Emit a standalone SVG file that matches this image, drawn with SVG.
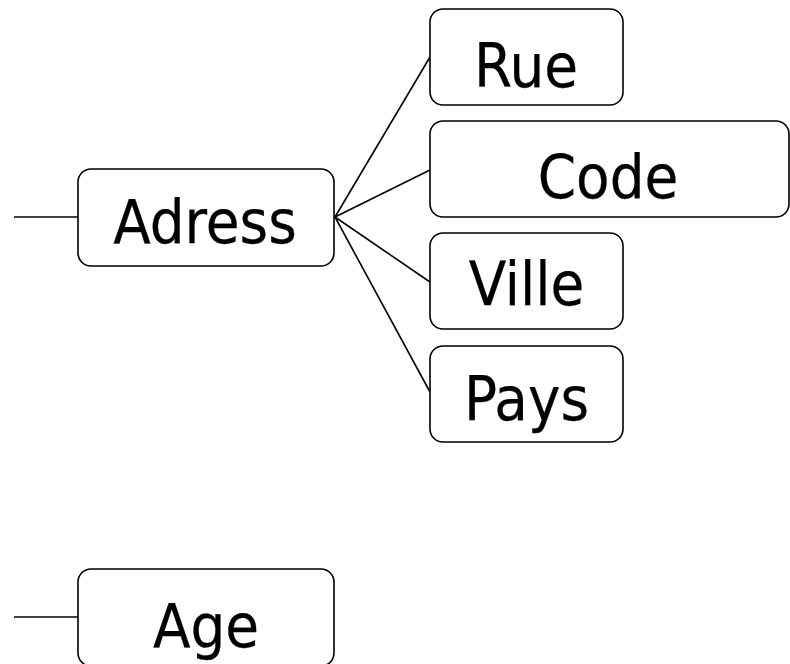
<svg xmlns="http://www.w3.org/2000/svg" width="790" height="664" viewBox="0 0 790 664">
<style>
.box{fill:#fff;stroke:#000;stroke-width:1.6}
.lbl{font-family:"DejaVu Sans Condensed","DejaVu Sans",sans-serif;font-stretch:condensed;font-size:61px;fill:#000;text-anchor:middle;stroke:#000;stroke-width:0.25}
.con{stroke:#000;stroke-width:1.6;fill:none}
</style>
<rect width="790" height="664" fill="#fff"/>
<g id="connectors">
<line class="con" x1="14" y1="217" x2="78" y2="217"/>
<line class="con" x1="14" y1="617" x2="78" y2="617"/>
<line class="con" x1="335" y1="217" x2="430" y2="57"/>
<line class="con" x1="335" y1="217" x2="430" y2="170"/>
<line class="con" x1="335" y1="217" x2="430" y2="282"/>
<line class="con" x1="335" y1="217" x2="430" y2="392"/>
</g>
<g id="adress">
<rect class="box" x="78" y="169" width="256" height="97" rx="13"/>
<text class="lbl" x="205" y="243">Adress</text>
</g>
<g id="rue">
<rect class="box" x="430" y="9" width="193" height="96" rx="13"/>
<text class="lbl" x="526" y="87">Rue</text>
</g>
<g id="code">
<rect class="box" x="430" y="121" width="359" height="96" rx="13"/>
<text class="lbl" x="608" y="198">Code</text>
</g>
<g id="ville">
<rect class="box" x="430" y="233" width="193" height="96" rx="13"/>
<text class="lbl" x="526.5" y="305">Ville</text>
</g>
<g id="pays">
<rect class="box" x="430" y="346" width="193" height="96" rx="13"/>
<text class="lbl" x="526.5" y="420">Pays</text>
</g>
<g id="age">
<rect class="box" x="78" y="569" width="256" height="97" rx="13"/>
<text class="lbl" x="206" y="647">Age</text>
</g>
</svg>
